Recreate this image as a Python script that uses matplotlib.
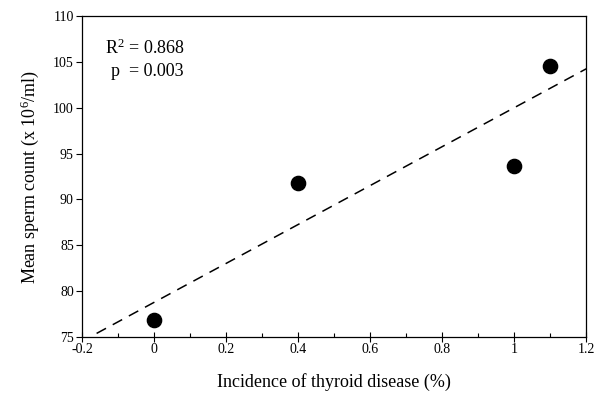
import matplotlib
matplotlib.use("Agg")
import matplotlib.pyplot as plt
import numpy as np
from matplotlib.ticker import MultipleLocator

plt.rcParams['font.family'] = ['Liberation Serif', 'DejaVu Serif']
plt.rcParams['mathtext.fontset'] = 'custom'
plt.rcParams['mathtext.rm'] = 'Liberation Serif'
plt.rcParams['mathtext.it'] = 'Liberation Serif:italic'

# data
thyroid_pct = [0.0, 0.4, 1.0, 1.1]
sperm_count = [76.9, 91.8, 93.7, 104.5]

# regression line as drawn
fit_x = [-0.16, 1.2]
fit_slope = 21.2
fit_intercept = 78.8

fig = plt.figure(figsize=(6, 3.99), dpi=100)
ax = fig.add_axes([0.137, 0.155, 0.84, 0.805])

fx = np.array(fit_x)
ax.plot(fx, fit_intercept + fit_slope * fx, color="black", linestyle=(0, (7, 5)), linewidth=1.1)
ax.scatter(thyroid_pct, sperm_count, s=105, color="black", zorder=3)

ax.set_xlim(-0.2, 1.2)
ax.set_ylim(75, 110)
ax.xaxis.set_minor_locator(MultipleLocator(0.1))
ax.yaxis.set_major_locator(MultipleLocator(5))
ax.set_xticks([-0.2, 0, 0.2, 0.4, 0.6, 0.8, 1.0, 1.2])
ax.set_xticklabels(["-0.2", "0", "0.2", "0.4", "0.6", "0.8", "1", "1.2"])

ax.tick_params(axis="x", which="major", direction="inout", length=7, width=0.8, labelsize=10, pad=1)
ax.tick_params(axis="x", which="minor", direction="in", length=3, width=0.8)
ax.tick_params(axis="y", which="major", direction="out", length=4, width=0.8, labelsize=10, pad=2)
for s in ax.spines.values():
    s.set_linewidth(0.9)

ax.set_xlabel("Incidence of thyroid disease (%)", fontsize=13, labelpad=12)
ax.set_ylabel("Mean sperm count (x 10$^{6}$/ml)", fontsize=13, labelpad=9)

ax.text(-0.138, 106.5, "R$^{2}$ = 0.868", fontsize=13, va="center", ha="left")
ax.text(-0.12, 104.0, "p  = 0.003", fontsize=13, va="center", ha="left")

fig.savefig("out.png", dpi=100)
